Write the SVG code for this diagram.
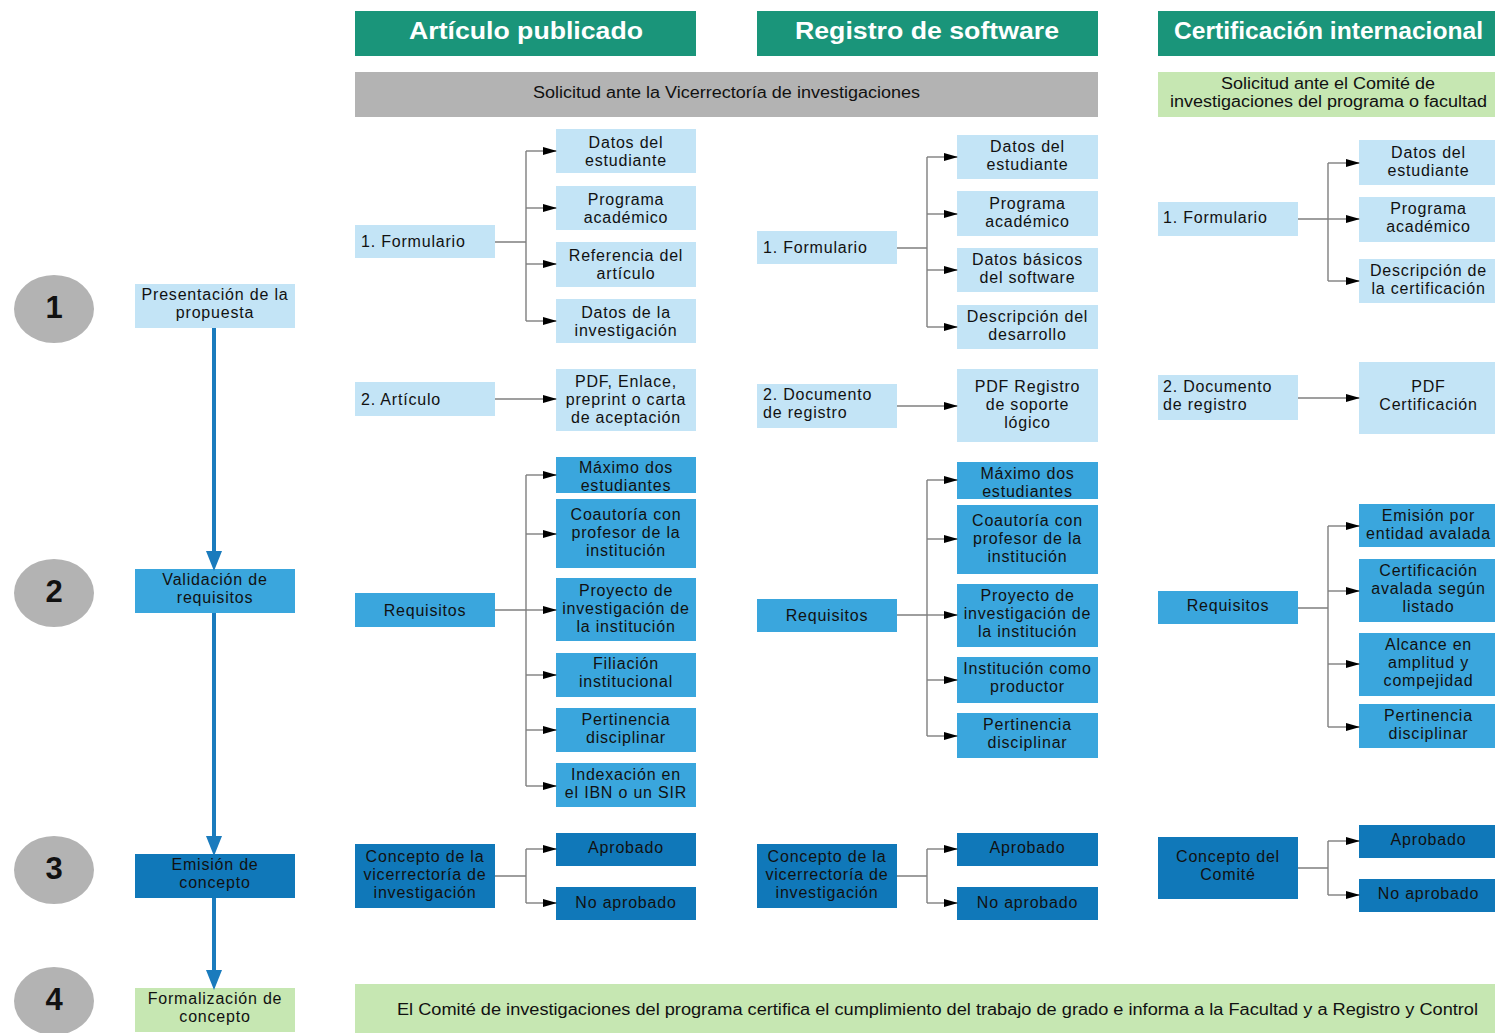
<svg xmlns="http://www.w3.org/2000/svg" width="1495" height="1033" viewBox="0 0 1495 1033">
<defs>
<style>
text{font-family:"Liberation Sans",Arial,sans-serif;font-size:16px;fill:#111;letter-spacing:0.8px}
.c{text-anchor:middle}
.hd{fill:#1a957a}
.hdt{fill:#fff;font-weight:bold;font-size:23px;letter-spacing:0;text-anchor:middle}
.lb{fill:#c3e4f6}
.mb{fill:#3aa6dd}
.db{fill:#1078b9}
.gn{fill:#c6e7b2}
.gy{fill:#b3b3b3}
.num{font-weight:bold;font-size:31px;text-anchor:middle;letter-spacing:0}
.cn{fill:none;stroke:#7f7f7f;stroke-width:1.4}
.va{fill:none;stroke:#1a7bbd;stroke-width:4}
</style>
<marker id="ah" markerUnits="userSpaceOnUse" viewBox="0 0 14 8" refX="13" refY="4" markerWidth="14" markerHeight="8" orient="auto"><path d="M0,0L14,4L0,8Z" fill="#000"/></marker>
<marker id="bh" markerUnits="userSpaceOnUse" viewBox="0 0 20 16" refX="4" refY="8" markerWidth="20" markerHeight="16" orient="auto"><path d="M0,0L20,8L0,16Z" fill="#1a7bbd"/></marker>
</defs>
<rect width="1495" height="1033" fill="#fff"/>

<g id="headers">
<g id="h1"><rect class="hd" x="355" y="11" width="341" height="45"/><text class="hdt" x="526" y="39" textLength="234" lengthAdjust="spacingAndGlyphs">Artículo publicado</text></g>
<g id="h2"><rect class="hd" x="757" y="11" width="341" height="45"/><text class="hdt" x="927" y="39" textLength="264" lengthAdjust="spacingAndGlyphs">Registro de software</text></g>
<g id="h3"><rect class="hd" x="1158" y="11" width="337" height="45"/><text class="hdt" x="1328.5" y="39" textLength="309" lengthAdjust="spacingAndGlyphs">Certificación internacional</text></g>
<g id="sol1"><rect class="gy" x="355" y="72" width="743" height="45"/><text class="c" x="726.5" y="97.5" textLength="387" lengthAdjust="spacingAndGlyphs" style="letter-spacing:0">Solicitud ante la Vicerrectoría de investigaciones</text></g>
<g id="sol2"><rect class="gn" x="1158" y="72" width="337" height="45"/><text class="c" x="1328" y="88.5" textLength="214" lengthAdjust="spacingAndGlyphs" style="letter-spacing:0">Solicitud ante el Comité de</text><text class="c" x="1328.5" y="106.5" textLength="317" lengthAdjust="spacingAndGlyphs" style="letter-spacing:0">investigaciones del programa o facultad</text></g>
</g>

<g id="steps">
<g id="s1"><ellipse class="gy" cx="54" cy="309" rx="40" ry="34"/><text class="num" x="54" y="318">1</text></g>
<g id="s2"><ellipse class="gy" cx="54" cy="593" rx="40" ry="34"/><text class="num" x="54" y="602">2</text></g>
<g id="s3"><ellipse class="gy" cx="54" cy="870" rx="40" ry="34"/><text class="num" x="54" y="879">3</text></g>
<g id="s4"><ellipse class="gy" cx="54" cy="1001" rx="40" ry="34"/><text class="num" x="54" y="1010">4</text></g>
</g>

<g id="phase1"><rect class="lb" x="135" y="284" width="160" height="44"/><text class="c"><tspan x="215" y="299.5">Presentación de la</tspan><tspan x="215" y="317.5">propuesta</tspan></text></g>
<g id="phase2"><rect class="mb" x="135" y="569" width="160" height="44"/><text class="c"><tspan x="215" y="584.5">Validación de</tspan><tspan x="215" y="602.5">requisitos</tspan></text></g>
<g id="phase3"><rect class="db" x="135" y="854" width="160" height="44"/><text class="c"><tspan x="215" y="869.5">Emisión de</tspan><tspan x="215" y="887.5">concepto</tspan></text></g>
<g id="phase4"><rect class="gn" x="135" y="988" width="160" height="44"/><text class="c"><tspan x="215" y="1003.5">Formalización de</tspan><tspan x="215" y="1021.5">concepto</tspan></text></g>

<!-- Column 1 -->
<g id="fm1"><rect class="lb" x="355" y="225" width="140" height="33"/><text x="361" y="247">1. Formulario</text></g>
<g id="c1a"><rect class="lb" x="556" y="129" width="140" height="44"/><text class="c"><tspan x="626" y="147.5">Datos del</tspan><tspan x="626" y="165.5">estudiante</tspan></text></g>
<g id="c1b"><rect class="lb" x="556" y="186" width="140" height="44"/><text class="c"><tspan x="626" y="204.5">Programa</tspan><tspan x="626" y="222.5">académico</tspan></text></g>
<g id="c1c"><rect class="lb" x="556" y="242" width="140" height="45"/><text class="c"><tspan x="626" y="261">Referencia del</tspan><tspan x="626" y="279">artículo</tspan></text></g>
<g id="c1d"><rect class="lb" x="556" y="299" width="140" height="44"/><text class="c"><tspan x="626" y="317.5">Datos de la</tspan><tspan x="626" y="335.5">investigación</tspan></text></g>
<g id="art1"><rect class="lb" x="355" y="382" width="140" height="34"/><text x="361" y="404.5">2. Artículo</text></g>
<g id="pdf1"><rect class="lb" x="556" y="369" width="140" height="62"/><text class="c"><tspan x="626" y="386.5">PDF, Enlace,</tspan><tspan x="626" y="404.5">preprint o carta</tspan><tspan x="626" y="422.5">de aceptación</tspan></text></g>
<g id="req1"><rect class="mb" x="355" y="593" width="140" height="34"/><text class="c" x="425" y="615.5">Requisitos</text></g>
<g id="r1a"><rect class="mb" x="556" y="457" width="140" height="36"/><text class="c"><tspan x="626" y="473">Máximo dos</tspan><tspan x="626" y="491">estudiantes</tspan></text></g>
<g id="r1b"><rect class="mb" x="556" y="499" width="140" height="69"/><text class="c"><tspan x="626" y="520">Coautoría con</tspan><tspan x="626" y="538">profesor de la</tspan><tspan x="626" y="556">institución</tspan></text></g>
<g id="r1c"><rect class="mb" x="556" y="578" width="140" height="63"/><text class="c"><tspan x="626" y="596">Proyecto de</tspan><tspan x="626" y="614">investigación de</tspan><tspan x="626" y="632">la institución</tspan></text></g>
<g id="r1d"><rect class="mb" x="556" y="653" width="140" height="44"/><text class="c"><tspan x="626" y="669">Filiación</tspan><tspan x="626" y="687">institucional</tspan></text></g>
<g id="r1e"><rect class="mb" x="556" y="708" width="140" height="44"/><text class="c"><tspan x="626" y="724.5">Pertinencia</tspan><tspan x="626" y="742.5">disciplinar</tspan></text></g>
<g id="r1f"><rect class="mb" x="556" y="763" width="140" height="44"/><text class="c"><tspan x="626" y="779.5">Indexación en</tspan><tspan x="626" y="797.5">el IBN o un SIR</tspan></text></g>
<g id="con1"><rect class="db" x="355" y="844" width="140" height="64"/><text class="c"><tspan x="425" y="861.5">Concepto de la</tspan><tspan x="425" y="879.5">vicerrectoría de</tspan><tspan x="425" y="897.5">investigación</tspan></text></g>
<g id="ap1"><rect class="db" x="556" y="833" width="140" height="33"/><text class="c" x="626" y="852.5">Aprobado</text></g>
<g id="na1"><rect class="db" x="556" y="887" width="140" height="33"/><text class="c" x="626" y="907.5">No aprobado</text></g>

<!-- Column 2 -->
<g id="fm2"><rect class="lb" x="757" y="231" width="140" height="33"/><text x="763" y="253">1. Formulario</text></g>
<g id="c2a"><rect class="lb" x="957" y="135" width="141" height="44"/><text class="c"><tspan x="1027.5" y="152">Datos del</tspan><tspan x="1027.5" y="170">estudiante</tspan></text></g>
<g id="c2b"><rect class="lb" x="957" y="191" width="141" height="45"/><text class="c"><tspan x="1027.5" y="208.5">Programa</tspan><tspan x="1027.5" y="226.5">académico</tspan></text></g>
<g id="c2c"><rect class="lb" x="957" y="248" width="141" height="44"/><text class="c"><tspan x="1027.5" y="265">Datos básicos</tspan><tspan x="1027.5" y="283">del software</tspan></text></g>
<g id="c2d"><rect class="lb" x="957" y="305" width="141" height="44"/><text class="c"><tspan x="1027.5" y="321.5">Descripción del</tspan><tspan x="1027.5" y="339.5">desarrollo</tspan></text></g>
<g id="doc2"><rect class="lb" x="757" y="384" width="140" height="44"/><text><tspan x="763" y="400">2. Documento</tspan><tspan x="763" y="418">de registro</tspan></text></g>
<g id="pdf2"><rect class="lb" x="957" y="369" width="141" height="73"/><text class="c"><tspan x="1027.5" y="392">PDF Registro</tspan><tspan x="1027.5" y="410">de soporte</tspan><tspan x="1027.5" y="428">lógico</tspan></text></g>
<g id="req2"><rect class="mb" x="757" y="599" width="140" height="33"/><text class="c" x="827" y="621">Requisitos</text></g>
<g id="r2a"><rect class="mb" x="957" y="462" width="141" height="37"/><text class="c"><tspan x="1027.5" y="478.5">Máximo dos</tspan><tspan x="1027.5" y="496.5">estudiantes</tspan></text></g>
<g id="r2b"><rect class="mb" x="957" y="505" width="141" height="69"/><text class="c"><tspan x="1027.5" y="526">Coautoría con</tspan><tspan x="1027.5" y="544">profesor de la</tspan><tspan x="1027.5" y="562">institución</tspan></text></g>
<g id="r2c"><rect class="mb" x="957" y="584" width="141" height="63"/><text class="c"><tspan x="1027.5" y="601">Proyecto de</tspan><tspan x="1027.5" y="619">investigación de</tspan><tspan x="1027.5" y="637">la institución</tspan></text></g>
<g id="r2d"><rect class="mb" x="957" y="657" width="141" height="46"/><text class="c"><tspan x="1027.5" y="674">Institución como</tspan><tspan x="1027.5" y="692">productor</tspan></text></g>
<g id="r2e"><rect class="mb" x="957" y="713" width="141" height="45"/><text class="c"><tspan x="1027.5" y="730">Pertinencia</tspan><tspan x="1027.5" y="748">disciplinar</tspan></text></g>
<g id="con2"><rect class="db" x="757" y="844" width="140" height="64"/><text class="c"><tspan x="827" y="861.5">Concepto de la</tspan><tspan x="827" y="879.5">vicerrectoría de</tspan><tspan x="827" y="897.5">investigación</tspan></text></g>
<g id="ap2"><rect class="db" x="957" y="833" width="141" height="33"/><text class="c" x="1027.5" y="852.5">Aprobado</text></g>
<g id="na2"><rect class="db" x="957" y="887" width="141" height="33"/><text class="c" x="1027.5" y="907.5">No aprobado</text></g>

<!-- Column 3 -->
<g id="fm3"><rect class="lb" x="1158" y="202" width="140" height="34"/><text x="1163" y="222.5">1. Formulario</text></g>
<g id="c3a"><rect class="lb" x="1359" y="140" width="136" height="45"/><text class="c"><tspan x="1428.5" y="157.5">Datos del</tspan><tspan x="1428.5" y="175.5">estudiante</tspan></text></g>
<g id="c3b"><rect class="lb" x="1359" y="197" width="136" height="45"/><text class="c"><tspan x="1428.5" y="214">Programa</tspan><tspan x="1428.5" y="232">académico</tspan></text></g>
<g id="c3c"><rect class="lb" x="1359" y="259" width="136" height="44"/><text class="c"><tspan x="1428.5" y="275.5">Descripción de</tspan><tspan x="1428.5" y="293.5">la certificación</tspan></text></g>
<g id="doc3"><rect class="lb" x="1158" y="375" width="140" height="45"/><text><tspan x="1163" y="392">2. Documento</tspan><tspan x="1163" y="410">de registro</tspan></text></g>
<g id="pdf3"><rect class="lb" x="1359" y="362" width="136" height="72"/><text class="c"><tspan x="1428.5" y="391.5">PDF</tspan><tspan x="1428.5" y="409.5">Certificación</tspan></text></g>
<g id="req3"><rect class="mb" x="1158" y="591" width="140" height="33"/><text class="c" x="1228" y="611">Requisitos</text></g>
<g id="r3a"><rect class="mb" x="1359" y="504" width="136" height="43"/><text class="c"><tspan x="1428.5" y="521">Emisión por</tspan><tspan x="1428.5" y="539">entidad avalada</tspan></text></g>
<g id="r3b"><rect class="mb" x="1359" y="559" width="136" height="63"/><text class="c"><tspan x="1428.5" y="576">Certificación</tspan><tspan x="1428.5" y="594">avalada según</tspan><tspan x="1428.5" y="612">listado</tspan></text></g>
<g id="r3c"><rect class="mb" x="1359" y="633" width="136" height="63"/><text class="c"><tspan x="1428.5" y="650">Alcance en</tspan><tspan x="1428.5" y="668">amplitud y</tspan><tspan x="1428.5" y="686">compejidad</tspan></text></g>
<g id="r3d"><rect class="mb" x="1359" y="704" width="136" height="44"/><text class="c"><tspan x="1428.5" y="721">Pertinencia</tspan><tspan x="1428.5" y="739">disciplinar</tspan></text></g>
<g id="con3"><rect class="db" x="1158" y="837" width="140" height="62"/><text class="c"><tspan x="1228" y="861.5">Concepto del</tspan><tspan x="1228" y="879.5">Comité</tspan></text></g>
<g id="ap3"><rect class="db" x="1359" y="825" width="136" height="33"/><text class="c" x="1428.5" y="844.5">Aprobado</text></g>
<g id="na3"><rect class="db" x="1359" y="879" width="136" height="33"/><text class="c" x="1428.5" y="898.5">No aprobado</text></g>

<g id="final"><rect class="gn" x="355" y="984" width="1140" height="49"/><text x="397" y="1014.5" textLength="1081" lengthAdjust="spacingAndGlyphs" style="letter-spacing:0">El Comité de investigaciones del programa certifica el cumplimiento del  trabajo de grado e informa a la Facultad  y a Registro y Control</text></g>

<g id="connectors">
<path class="va" d="M214,328V555" marker-end="url(#bh)"/>
<path class="va" d="M214,613V840" marker-end="url(#bh)"/>
<path class="va" d="M214,898V974" marker-end="url(#bh)"/>

<path class="cn" d="M495,242H526M526,151V321"/>
<path class="cn" d="M526,151H556" marker-end="url(#ah)"/>
<path class="cn" d="M526,208H556" marker-end="url(#ah)"/>
<path class="cn" d="M526,264H556" marker-end="url(#ah)"/>
<path class="cn" d="M526,321H556" marker-end="url(#ah)"/>
<path class="cn" d="M495,399H556" marker-end="url(#ah)"/>
<path class="cn" d="M495,610H526M526,475V786"/>
<path class="cn" d="M526,475H556" marker-end="url(#ah)"/>
<path class="cn" d="M526,534H556" marker-end="url(#ah)"/>
<path class="cn" d="M526,610H556" marker-end="url(#ah)"/>
<path class="cn" d="M526,675H556" marker-end="url(#ah)"/>
<path class="cn" d="M526,730H556" marker-end="url(#ah)"/>
<path class="cn" d="M526,786H556" marker-end="url(#ah)"/>
<path class="cn" d="M495,876H526M526,849V903"/>
<path class="cn" d="M526,849H556" marker-end="url(#ah)"/>
<path class="cn" d="M526,903H556" marker-end="url(#ah)"/>

<path class="cn" d="M897,248H927M927,157V327"/>
<path class="cn" d="M927,157H957" marker-end="url(#ah)"/>
<path class="cn" d="M927,214H957" marker-end="url(#ah)"/>
<path class="cn" d="M927,270H957" marker-end="url(#ah)"/>
<path class="cn" d="M927,327H957" marker-end="url(#ah)"/>
<path class="cn" d="M897,406H957" marker-end="url(#ah)"/>
<path class="cn" d="M897,615H927M927,480V736"/>
<path class="cn" d="M927,480H957" marker-end="url(#ah)"/>
<path class="cn" d="M927,539H957" marker-end="url(#ah)"/>
<path class="cn" d="M927,615H957" marker-end="url(#ah)"/>
<path class="cn" d="M927,680H957" marker-end="url(#ah)"/>
<path class="cn" d="M927,736H957" marker-end="url(#ah)"/>
<path class="cn" d="M897,876H927M927,849V903"/>
<path class="cn" d="M927,849H957" marker-end="url(#ah)"/>
<path class="cn" d="M927,903H957" marker-end="url(#ah)"/>

<path class="cn" d="M1298,219H1328M1328,163V281"/>
<path class="cn" d="M1328,163H1359" marker-end="url(#ah)"/>
<path class="cn" d="M1328,219H1359" marker-end="url(#ah)"/>
<path class="cn" d="M1328,281H1359" marker-end="url(#ah)"/>
<path class="cn" d="M1298,398H1359" marker-end="url(#ah)"/>
<path class="cn" d="M1298,608H1328M1328,526V727"/>
<path class="cn" d="M1328,526H1359" marker-end="url(#ah)"/>
<path class="cn" d="M1328,591H1359" marker-end="url(#ah)"/>
<path class="cn" d="M1328,664H1359" marker-end="url(#ah)"/>
<path class="cn" d="M1328,727H1359" marker-end="url(#ah)"/>
<path class="cn" d="M1298,868H1328M1328,841V895"/>
<path class="cn" d="M1328,841H1359" marker-end="url(#ah)"/>
<path class="cn" d="M1328,895H1359" marker-end="url(#ah)"/>
</g>
</svg>
